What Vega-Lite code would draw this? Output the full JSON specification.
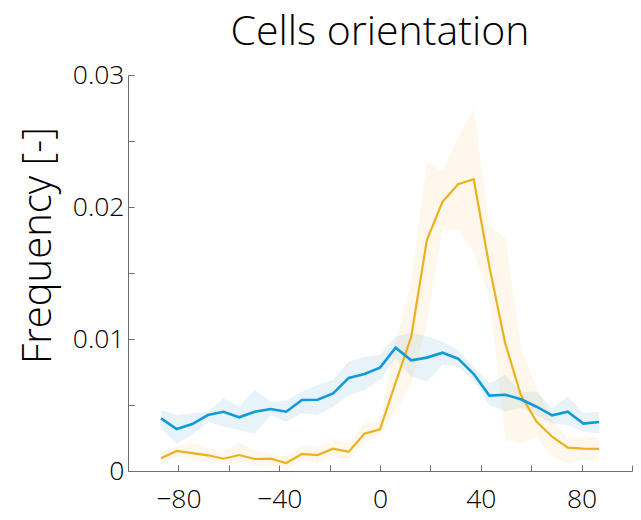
{
  "$schema": "https://vega.github.io/schema/vega-lite/v6.json",
  "autosize": "none",
  "width": 504,
  "height": 396,
  "padding": {"left": 128, "top": 75, "right": 9, "bottom": 49},
  "background": "white",
  "title": {
    "text": "Cells orientation",
    "font": "Open Sans",
    "fontWeight": 350,
    "fontSize": 41,
    "color": "#000000",
    "anchor": "middle",
    "frame": "group",
    "baseline": "alphabetic",
    "offset": 18,
    "dy": 42
  },
  "config": {
    "view": {"stroke": null},
    "axis": {
      "labelFont": "Open Sans",
      "labelFontWeight": 350,
      "labelFontSize": 26.5,
      "labelColor": "#000000",
      "domainColor": "#6e6e6e",
      "tickColor": "#6e6e6e",
      "grid": false,
      "titleFont": "Open Sans",
      "titleFontWeight": 350,
      "titleColor": "#000000"
    }
  },
  "data": {
    "values": [
      {"x": -86.9, "s": "A", "m": 0.00399, "lo": 0.00323, "hi": 0.00462},
      {"x": -80.7, "s": "A", "m": 0.00318, "lo": 0.0021, "hi": 0.00424},
      {"x": -74.5, "s": "A", "m": 0.00356, "lo": 0.00273, "hi": 0.00437},
      {"x": -68.3, "s": "A", "m": 0.00424, "lo": 0.00374, "hi": 0.00449},
      {"x": -62.1, "s": "A", "m": 0.00449, "lo": 0.00336, "hi": 0.00551},
      {"x": -55.9, "s": "A", "m": 0.00407, "lo": 0.00311, "hi": 0.00487},
      {"x": -49.7, "s": "A", "m": 0.00449, "lo": 0.00285, "hi": 0.00614},
      {"x": -43.4, "s": "A", "m": 0.0047, "lo": 0.00424, "hi": 0.00525},
      {"x": -37.2, "s": "A", "m": 0.00449, "lo": 0.00374, "hi": 0.00533},
      {"x": -31.0, "s": "A", "m": 0.00538, "lo": 0.00437, "hi": 0.00601},
      {"x": -24.8, "s": "A", "m": 0.0054, "lo": 0.00424, "hi": 0.00652},
      {"x": -18.6, "s": "A", "m": 0.00588, "lo": 0.00487, "hi": 0.00689},
      {"x": -12.4, "s": "A", "m": 0.00705, "lo": 0.00576, "hi": 0.00828},
      {"x": -6.2, "s": "A", "m": 0.00735, "lo": 0.00614, "hi": 0.00866},
      {"x": 0, "s": "A", "m": 0.00783, "lo": 0.00689, "hi": 0.00879},
      {"x": 6.2, "s": "A", "m": 0.00934, "lo": 0.00854, "hi": 0.01018},
      {"x": 12.4, "s": "A", "m": 0.00838, "lo": 0.00715, "hi": 0.01048},
      {"x": 18.6, "s": "A", "m": 0.00859, "lo": 0.00677, "hi": 0.01018},
      {"x": 24.8, "s": "A", "m": 0.00896, "lo": 0.00803, "hi": 0.0098},
      {"x": 31.0, "s": "A", "m": 0.00851, "lo": 0.0079, "hi": 0.00912},
      {"x": 37.2, "s": "A", "m": 0.00735, "lo": 0.00689, "hi": 0.0079},
      {"x": 43.4, "s": "A", "m": 0.00571, "lo": 0.005, "hi": 0.00664},
      {"x": 49.7, "s": "A", "m": 0.00578, "lo": 0.0045, "hi": 0.00727},
      {"x": 55.9, "s": "A", "m": 0.00543, "lo": 0.0048, "hi": 0.00601},
      {"x": 62.1, "s": "A", "m": 0.00487, "lo": 0.0042, "hi": 0.00601},
      {"x": 68.3, "s": "A", "m": 0.00422, "lo": 0.0036, "hi": 0.00475},
      {"x": 74.5, "s": "A", "m": 0.00449, "lo": 0.00348, "hi": 0.00563},
      {"x": 80.7, "s": "A", "m": 0.00359, "lo": 0.00298, "hi": 0.00437},
      {"x": 86.9, "s": "A", "m": 0.00371, "lo": 0.00285, "hi": 0.00449},
      {"x": -86.9, "s": "B", "m": 0.00096, "lo": 0.00045, "hi": 0.00146},
      {"x": -80.7, "s": "B", "m": 0.00152, "lo": 0.00109, "hi": 0.00184},
      {"x": -74.5, "s": "B", "m": 0.00136, "lo": 0.00088, "hi": 0.0021},
      {"x": -68.3, "s": "B", "m": 0.00119, "lo": 0.00071, "hi": 0.00172},
      {"x": -62.1, "s": "B", "m": 0.00093, "lo": 0.00045, "hi": 0.00146},
      {"x": -55.9, "s": "B", "m": 0.00121, "lo": 0.00058, "hi": 0.00215},
      {"x": -49.7, "s": "B", "m": 0.00091, "lo": 0.00033, "hi": 0.00159},
      {"x": -43.4, "s": "B", "m": 0.00093, "lo": 0.00045, "hi": 0.00134},
      {"x": -37.2, "s": "B", "m": 0.00061, "lo": 0.00008, "hi": 0.00109},
      {"x": -31.0, "s": "B", "m": 0.00129, "lo": 0.00083, "hi": 0.00192},
      {"x": -24.8, "s": "B", "m": 0.00121, "lo": 0.00058, "hi": 0.00184},
      {"x": -18.6, "s": "B", "m": 0.00169, "lo": 0.00109, "hi": 0.00235},
      {"x": -12.4, "s": "B", "m": 0.00146, "lo": 0.00083, "hi": 0.0021},
      {"x": -6.2, "s": "B", "m": 0.00283, "lo": 0.0021, "hi": 0.00361},
      {"x": 0, "s": "B", "m": 0.00316, "lo": 0.00273, "hi": 0.00374},
      {"x": 6.2, "s": "B", "m": 0.0067, "lo": 0.0045, "hi": 0.00967},
      {"x": 12.4, "s": "B", "m": 0.01018, "lo": 0.00664, "hi": 0.01447},
      {"x": 18.6, "s": "B", "m": 0.0175, "lo": 0.01119, "hi": 0.02343},
      {"x": 24.8, "s": "B", "m": 0.0204, "lo": 0.01826, "hi": 0.02268},
      {"x": 31.0, "s": "B", "m": 0.02172, "lo": 0.01826, "hi": 0.02533},
      {"x": 37.2, "s": "B", "m": 0.0221, "lo": 0.01662, "hi": 0.02747},
      {"x": 43.4, "s": "B", "m": 0.01548, "lo": 0.01321, "hi": 0.01864},
      {"x": 49.7, "s": "B", "m": 0.00967, "lo": 0.00235, "hi": 0.01763},
      {"x": 55.9, "s": "B", "m": 0.00576, "lo": 0.0021, "hi": 0.00942},
      {"x": 62.1, "s": "B", "m": 0.00374, "lo": 0.0025, "hi": 0.00639},
      {"x": 68.3, "s": "B", "m": 0.0026, "lo": 0.00109, "hi": 0.00386},
      {"x": 74.5, "s": "B", "m": 0.00177, "lo": 0.00058, "hi": 0.00247},
      {"x": 80.7, "s": "B", "m": 0.00169, "lo": 0.00083, "hi": 0.0026},
      {"x": 86.9, "s": "B", "m": 0.00167, "lo": 0.00071, "hi": 0.0026}
    ]
  },
  "encoding": {
    "x": {
      "field": "x",
      "type": "quantitative",
      "scale": {"domain": [-100, 100], "nice": false},
      "axis": {
        "values": [-100, -80, -60, -40, -20, 0, 20, 40, 60, 80, 100],
        "labelExpr": "datum.value % 40 == 0 && abs(datum.value) < 100 ? datum.label : ''",
        "tickSize": -6,
        "labelPadding": 21,
        "title": null
      }
    }
  },
  "layer": [
    {
      "mark": {"type": "area", "opacity": 0.09},
      "encoding": {
        "y": {"field": "lo", "type": "quantitative"},
        "y2": {"field": "hi"},
        "fill": {"field": "s", "type": "nominal", "scale": {"domain": ["A", "B"], "range": ["#0072BD", "#EDB120"]}, "legend": null}
      }
    },
    {
      "mark": {"type": "line", "strokeWidth": 2.2},
      "transform": [{"filter": "datum.s == 'B'"}],
      "encoding": {
        "y": {"field": "m", "type": "quantitative"},
        "color": {"value": "#EDB120"}
      }
    },
    {
      "mark": {"type": "line", "strokeWidth": 2.6},
      "transform": [{"filter": "datum.s == 'A'"}],
      "encoding": {
        "y": {
          "field": "m",
          "type": "quantitative",
          "scale": {"domain": [0, 0.03], "nice": false},
          "axis": {
            "values": [0, 0.005, 0.01, 0.015, 0.02, 0.025, 0.03],
            "labelExpr": "datum.value == 0 ? '0' : (round(datum.value * 200) % 2 == 0 ? format(datum.value, '.2f') : '')",
            "tickSize": -6,
            "labelPadding": 10,
            "title": "Frequency [-]",
            "titleFontSize": 40,
            "titleX": -78,
            "titleY": 170,
            "titleAngle": 270,
            "titleAlign": "center",
            "titleBaseline": "alphabetic"
          }
        },
        "color": {"value": "#0F9BD7"}
      }
    }
  ]
}
